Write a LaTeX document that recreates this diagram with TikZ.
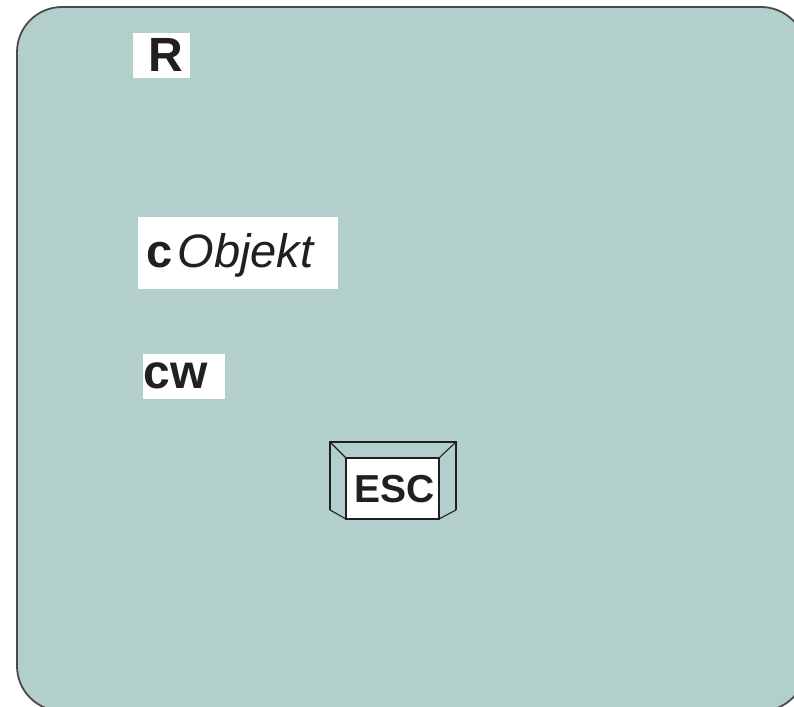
\documentclass[tikz,border=0pt]{standalone}
\usepackage{fontspec}
\setmainfont{Liberation Sans}
\definecolor{bgteal}{HTML}{B3CFCB}
\definecolor{edgegray}{HTML}{4A4A4A}
\definecolor{inkcol}{HTML}{231F20}
\begin{document}
\begin{tikzpicture}[x=0.5pt,y=-0.5pt,
  wbox/.style={fill=white,draw=none},
  lbl/.style={inner sep=0pt,anchor=base west,text=inkcol},
  keyline/.style={draw=inkcol,line width=0.55pt}]
\useasboundingbox (0,0) rectangle (794,707);
% background panel
\draw[fill=bgteal,draw=edgegray,line width=0.9pt,rounded corners=22.5pt] (17,7) rectangle (806,711);
% white label boxes
\fill[wbox] (133,33) rectangle (190,78);
\fill[wbox] (138,217) rectangle (338,289);
\fill[wbox] (143,354) rectangle (225,399);
\node[lbl,font=\fontsize{24pt}{28pt}\selectfont\bfseries] (r) at (148,71) {R};
\node[lbl,font=\fontsize{23.5pt}{28pt}\selectfont] (obj) at (146,267) {\textbf{c}\kern2.5pt\textit{Objekt}};
\node[lbl,font=\fontsize{24pt}{28pt}\selectfont\bfseries] (cw) at (143,388) {cw};
% ESC key
\coordinate (o1) at (330,442);
\coordinate (o2) at (456,442);
\coordinate (o3) at (456,510);
\coordinate (o4) at (330,510);
\coordinate (i1) at (346,458);
\coordinate (i2) at (439,458);
\coordinate (i3) at (439,519);
\coordinate (i4) at (346,519);
\draw[keyline] (o4) -- (o1) -- (o2) -- (o3);
\draw[keyline] (o1) -- (i1);
\draw[keyline] (o2) -- (i2);
\draw[keyline] (o3) -- (i3);
\draw[keyline] (o4) -- (i4);
\draw[keyline,fill=white] (i1) rectangle (i3);
\node[inner sep=0pt,anchor=base,text=inkcol,font=\fontsize{19.5pt}{24pt}\selectfont\bfseries] (esc) at (395,502) {ESC};
\end{tikzpicture}
\end{document}
